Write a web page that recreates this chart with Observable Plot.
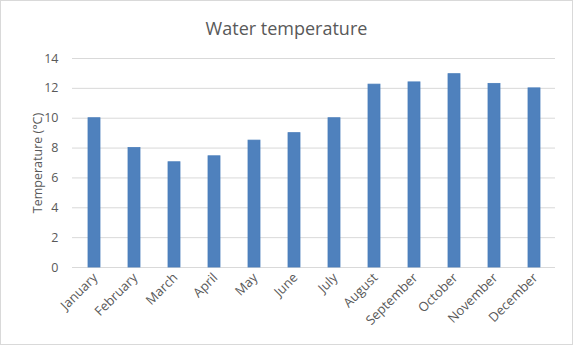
<!DOCTYPE html>
<html><head><meta charset="utf-8">
<script src="https://cdn.jsdelivr.net/npm/d3@7"></script>
<script src="https://cdn.jsdelivr.net/npm/@observablehq/plot@0.6"></script>
<style>
html,body{margin:0;padding:0;background:#fff;}
#wrap{width:573px;height:345px;box-sizing:border-box;border:1px solid #d9d9d9;position:relative;overflow:hidden;font-family:"Open Sans",sans-serif;}
#title{height:44px;line-height:54px;text-align:center;font-size:18px;color:#595959;}
</style></head>
<body><div id="wrap"><div id="title">Water temperature</div></div>
<script>
const months = ["January","February","March","April","May","June","July","August","September","October","November","December"];
const temps = [10, 8, 7.05, 7.45, 8.5, 9, 10, 12.25, 12.4, 12.95, 12.3, 12.0];
const yTicks = [0,2,4,6,8,10,12,14];
const data = months.map((m,i)=>({month:m, temp:temps[i]}));
const chart = Plot.plot({
  width: 571, height: 299,
  marginTop: 13, marginBottom: 77, marginLeft: 71, marginRight: 17,
  style: {fontFamily: '"Open Sans",sans-serif', fontSize: "12px", color: "#595959", background: "transparent"},
  x: {domain: months, paddingInner: 0.7, paddingOuter: 0.35, label: null},
  y: {domain: [0,14], label: null},
  marks: [
    Plot.gridY(yTicks.filter(d=>d>0), {stroke: "#d9d9d9", strokeOpacity: 1}),
    Plot.ruleY([0], {stroke: "#d9d9d9"}),
    Plot.barY(data, {x: "month", y: "temp", fill: "#4f81bd", stroke: "#4a7ebb", strokeWidth: 0.8}),
    Plot.axisX({tickSize: 0, tickRotate: -45, tickPadding: 8, dx: 1, label: null, fill: "#595959", fontSize: 13}),
    Plot.axisY({ticks: yTicks, tickSize: 0, tickPadding: 14, label: null, fill: "#595959", fontSize: 12.5}),
    Plot.text(["Temperature (°C)"], {frameAnchor: "left", dx: -35, rotate: -90, textAnchor: "middle", fontSize: 12.5, fill: "#595959"})
  ]
});
document.getElementById("wrap").appendChild(chart);
</script></body></html>
